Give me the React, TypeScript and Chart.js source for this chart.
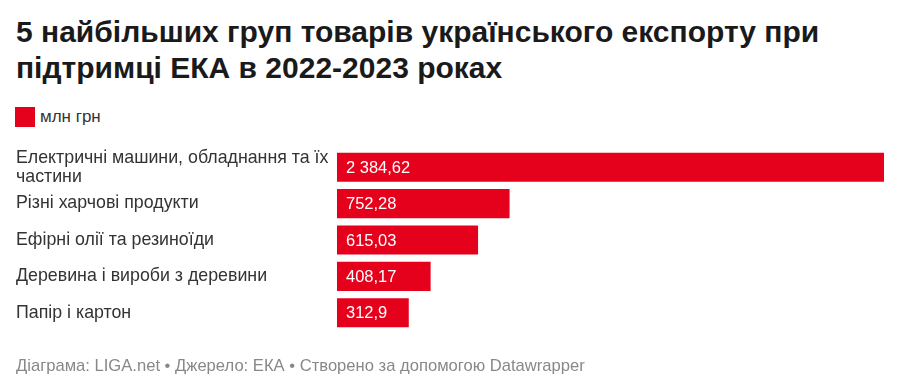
import React, { useEffect, useRef } from "react";
import { Chart, registerables } from "chart.js";

Chart.register(...registerables);

const titleLines = [
  "5 найбільших груп товарів українського експорту при",
  "підтримці ЕКА в 2022-2023 роках",
];
const legendLabel = "млн грн";
const categories: (string | string[])[] = [
  ["Електричні машини, обладнання та їх", "частини"],
  "Різні харчові продукти",
  "Ефірні олії та резиноїди",
  "Деревина і вироби з деревини",
  "Папір і картон",
];
const values = [2384.62, 752.28, 615.03, 408.17, 312.9];
const valueLabels = ["2 384,62", "752,28", "615,03", "408,17", "312,9"];
const footer = "Діаграма: LIGA.net • Джерело: ЕКА • Створено за допомогою Datawrapper";

const RED = "#e5001c";
const FONT = "'Liberation Sans', Arial, sans-serif";

const valueLabelPlugin = {
  id: "valueLabels",
  afterDatasetsDraw(chart: any) {
    const ctx = chart.ctx;
    const meta = chart.getDatasetMeta(0);
    ctx.save();
    ctx.font = `16.5px ${FONT}`;
    ctx.fillStyle = "#ffffff";
    ctx.textAlign = "left";
    ctx.textBaseline = "middle";
    meta.data.forEach((bar: any, i: number) => {
      ctx.fillText(valueLabels[i], bar.base + 9, bar.y + 1);
    });
    ctx.restore();
  },
};

export default function App() {
  const ref = useRef<HTMLCanvasElement | null>(null);
  useEffect(() => {
    if (!ref.current) return;
    const chart = new Chart(ref.current, {
      type: "bar",
      data: {
        labels: categories,
        datasets: [
          {
            label: legendLabel,
            data: values,
            backgroundColor: RED,
            borderWidth: 0,
            barPercentage: 0.8,
            categoryPercentage: 1,
          },
        ],
      },
      options: {
        indexAxis: "y",
        animation: false,
        responsive: false,
        maintainAspectRatio: false,
        layout: { padding: { left: 16, right: 16, top: 149, bottom: 59 } },
        plugins: {
          legend: { display: false },
          tooltip: { enabled: false },
          title: { display: false },
        },
        scales: {
          x: {
            display: false,
            min: 0,
            max: Math.max(...values),
          },
          y: {
            border: { display: false },
            grid: { display: false, drawTicks: false },
            afterFit(scale: any) {
              scale.width = 321;
            },
            ticks: {
              autoSkip: false,
              crossAlign: "far",
              color: "#333333",
              font: { family: FONT, size: 17.8, lineHeight: "19px" },
              padding: 0,
            },
          },
        },
      },
      plugins: [valueLabelPlugin],
    } as any);
    return () => chart.destroy();
  }, []);

  return (
    <div
      style={{
        position: "fixed",
        left: 0,
        top: 0,
        width: 900,
        height: 390,
        background: "#ffffff",
        fontFamily: FONT,
      }}
    >
      <div
        style={{
          position: "absolute",
          left: 16,
          top: 14,
          fontSize: 30,
          lineHeight: "36px",
          fontWeight: 700,
          color: "#1a1a1a",
          whiteSpace: "nowrap",
        }}
      >
        {titleLines.map((t, i) => (
          <div key={i}>{t}</div>
        ))}
      </div>
      <div
        style={{
          position: "absolute",
          left: 15,
          top: 107,
          width: 20,
          height: 20,
          background: RED,
        }}
      />
      <div
        style={{
          position: "absolute",
          left: 40,
          top: 107,
          fontSize: 17,
          lineHeight: "20px",
          color: "#333333",
        }}
      >
        {legendLabel}
      </div>
      <canvas
        ref={ref}
        width={900}
        height={390}
        style={{ position: "absolute", left: 0, top: 0, width: 900, height: 390 }}
      />
      <div
        style={{
          position: "absolute",
          left: 16,
          top: 356,
          fontSize: 16.6,
          lineHeight: "20px",
          color: "#888888",
          whiteSpace: "nowrap",
        }}
      >
        {footer}
      </div>
    </div>
  );
}
